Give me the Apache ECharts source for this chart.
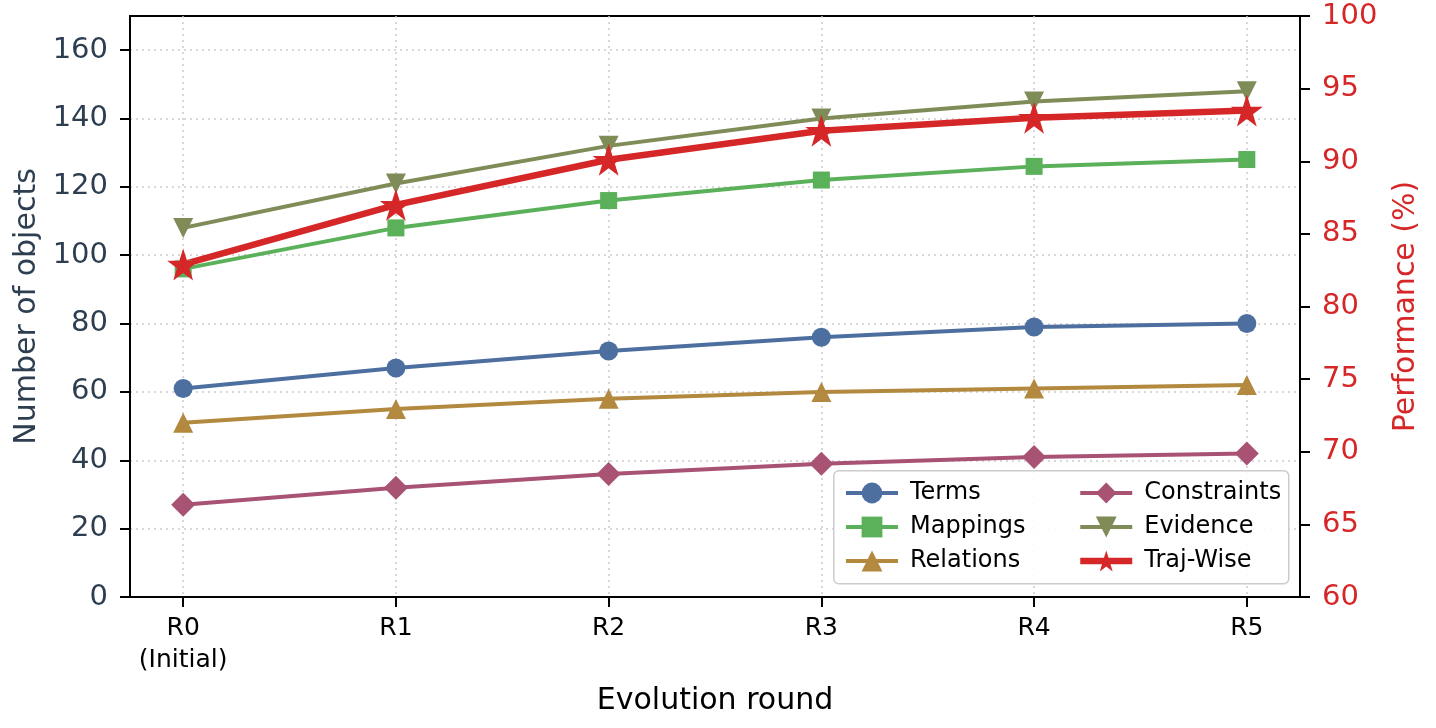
<!DOCTYPE html>
<html>
<head>
<meta charset="utf-8">
<title>Evolution round</title>
<script src="https://cdn.jsdelivr.net/npm/echarts@6/dist/echarts.min.js"></script>
<style>
    html, body { margin: 0; padding: 0; background: #fff; }
    #main-chart { width: 1436px; height: 728px; }
</style>
</head>
<body>
<div id="main-chart"></div>
<script>
// rounds on the x axis
const rounds = ['R0\n(Initial)', 'R1', 'R2', 'R3', 'R4', 'R5'];

// object counts (left axis)
const terms = [61, 67, 72, 76, 79, 80];
const mappings = [96, 108, 116, 122, 126, 128];
const relations = [51, 55, 58, 60, 61, 62];
const constraints = [27, 32, 36, 39, 41, 42];
const evidence = [108, 121, 132, 140, 145, 148];

// performance % (right axis)
const trajWise = [82.9, 87.0, 90.1, 92.1, 93.0, 93.5];

const leftTicks = [0, 20, 40, 60, 80, 100, 120, 140, 160];
const roundTicks = [0, 1, 2, 3, 4, 5];

const FONT = 'DejaVu Sans';
const DARK = '#2c3e50';
const RED = '#d62728';

function toPoints(values) {
    return values.map(function (v, i) { return [i, v]; });
}

function lineSeries(name, values, color, symbol, size, width, axis) {
    return {
        name: name,
        type: 'line',
        yAxisIndex: axis || 0,
        data: toPoints(values),
        symbol: symbol,
        symbolSize: size,
        showAllSymbol: true,
        lineStyle: { color: color, width: width },
        itemStyle: { color: color, opacity: 1 },
        emphasis: { disabled: true },
        animation: false
    };
}

const myChart = echarts.init(document.getElementById('main-chart'));

const legendBase = {
    orient: 'vertical',
    itemWidth: 52,
    itemHeight: 26,
    itemGap: 10,
    lineStyle: { width: 'inherit' },
    textStyle: {
        fontFamily: FONT,
        fontSize: 24,
        color: '#000',
        padding: [0, 0, 0, 7]
    },
    z: 10
};

const option = {
    backgroundColor: '#fff',
    animation: false,

    grid: {
        left: 130,
        right: 136,
        top: 16,
        bottom: 131,
        show: true,
        borderColor: '#000',
        borderWidth: 2,
        containLabel: false
    },

    legend: [
        Object.assign({}, legendBase, {
            left: 839, top: 476,
            data: ['Terms', 'Mappings', 'Relations']
        }),
        Object.assign({}, legendBase, {
            left: 1072, top: 476,
            data: ['Constraints', 'Evidence', 'Traj-Wise']
        })
    ],

    // legend frame round both columns
    graphic: [{
        type: 'rect',
        left: 833,
        top: 470,
        shape: { width: 455, height: 113, r: 5 },
        style: { fill: 'rgba(255,255,255,0.9)', stroke: '#cccccc', lineWidth: 1.5 },
        z: 5
    }],

    xAxis: {
        type: 'value',
        min: -0.25,
        max: 5.25,
        name: 'Evolution round',
        nameLocation: 'middle',
        nameGap: 89,
        nameTextStyle: { fontFamily: FONT, fontSize: 30, color: '#000' },
        axisLine: { show: true, onZero: false, lineStyle: { color: '#000', width: 2 } },
        axisTick: {
            show: true, inside: false, length: 10,
            lineStyle: { color: '#000', width: 2 },
            customValues: roundTicks
        },
        axisLabel: {
            customValues: roundTicks,
            formatter: function (v) { return rounds[Math.round(v)] || ''; },
            fontFamily: FONT,
            fontSize: 25,
            color: '#000',
            lineHeight: 32,
            margin: 15
        },
        splitLine: {
            show: true,
            customValues: roundTicks,
            lineStyle: { color: '#cccccc', type: [2, 4], width: 1.5 }
        }
    },

    yAxis: [{
        type: 'value',
        position: 'left',
        min: 0,
        max: 170,
        interval: 20,
        name: 'Number of objects',
        nameLocation: 'middle',
        nameRotate: 90,
        nameGap: 70,
        nameTextStyle: { fontFamily: FONT, fontSize: 30, color: DARK },
        axisLine: { show: true, onZero: false, lineStyle: { color: '#000', width: 2 } },
        axisTick: {
            show: true, length: 10,
            lineStyle: { color: '#000', width: 2 },
            customValues: leftTicks
        },
        axisLabel: {
            customValues: leftTicks,
            fontFamily: FONT,
            fontSize: 29,
            color: DARK,
            margin: 22
        },
        splitLine: {
            show: true,
            lineStyle: { color: '#cccccc', type: [2, 4], width: 1.5 }
        }
    }, {
        type: 'value',
        position: 'right',
        min: 60,
        max: 100,
        interval: 5,
        name: 'Performance (%)',
        nameLocation: 'middle',
        nameRotate: 90,
        nameGap: 91,
        nameTextStyle: { fontFamily: FONT, fontSize: 30, color: RED },
        axisLine: { show: true, onZero: false, lineStyle: { color: '#000', width: 2 } },
        axisTick: { show: true, length: 10, lineStyle: { color: '#000', width: 2 } },
        axisLabel: {
            fontFamily: FONT,
            fontSize: 29,
            color: RED,
            margin: 22
        },
        splitLine: { show: false }
    }],

    series: [
        lineSeries('Terms', terms, '#4c6fa0', 'circle', 19, 4),
        lineSeries('Mappings', mappings, '#5bb05a', 'rect', 17, 4),
        lineSeries('Relations', relations, '#b3893f', 'triangle', 20, 4),
        lineSeries('Constraints', constraints, '#a85274', 'diamond', 24, 4),
        lineSeries('Evidence', evidence, '#7f8c58', 'path://M0,0 L10,0 L5,9 Z', 20, 4),
        lineSeries('Traj-Wise', trajWise, RED, 'path://M50,0 L61.8,35.6 L99,35.6 L69,57.6 L80.3,93 L50,71.2 L19.7,93 L31,57.6 L1,35.6 L38.2,35.6 Z', 32, 6.5, 1)
    ]
};

myChart.setOption(option);
</script>
</body>
</html>
